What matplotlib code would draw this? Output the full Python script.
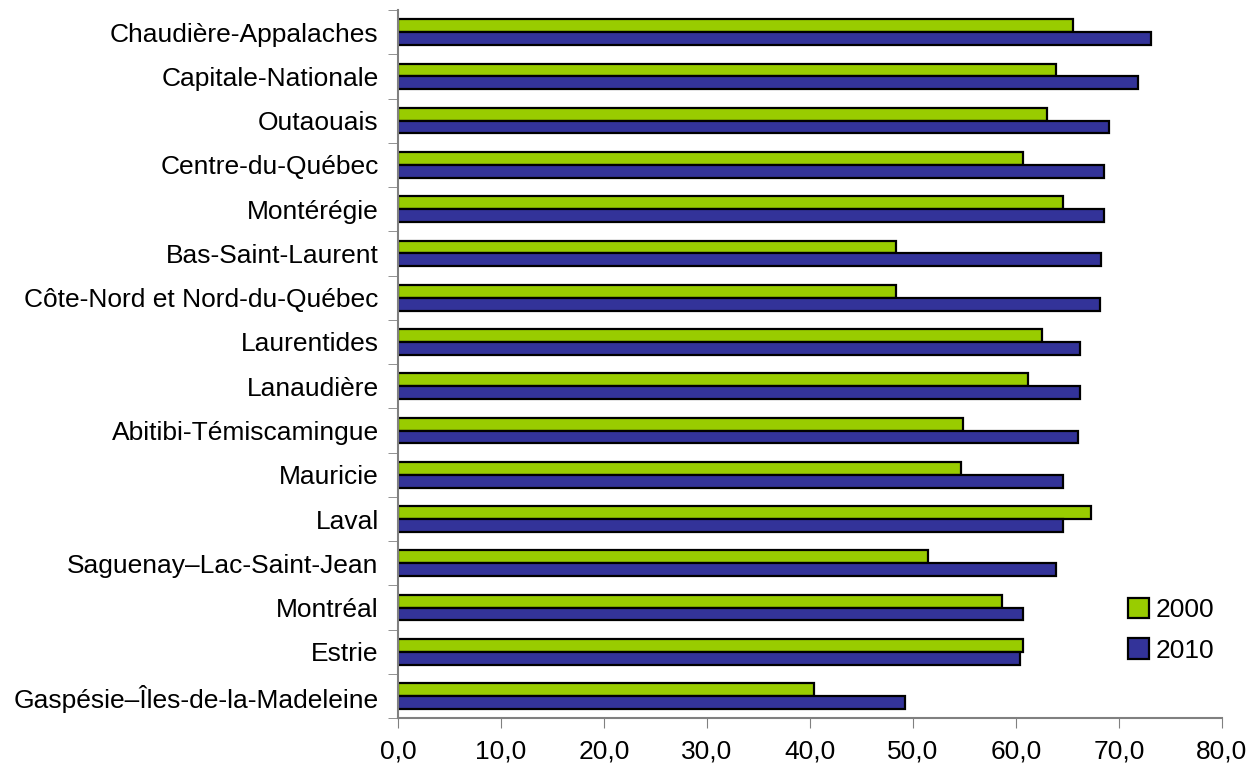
import matplotlib.pyplot as plt
import numpy as np
from matplotlib.ticker import FuncFormatter, FixedLocator

# --- data, top to bottom as in the chart ---
regions = ["Chaudière-Appalaches", "Capitale-Nationale", "Outaouais",
           "Centre-du-Québec", "Montérégie", "Bas-Saint-Laurent",
           "Côte-Nord et Nord-du-Québec", "Laurentides", "Lanaudière",
           "Abitibi-Témiscamingue", "Mauricie", "Laval",
           "Saguenay–Lac-Saint-Jean", "Montréal", "Estrie",
           "Gaspésie–Îles-de-la-Madeleine"]
val_2000 = [65.5, 63.9, 63.0, 60.7, 64.6, 48.3, 48.3, 62.5, 61.2,
            54.9, 54.7, 67.3, 51.5, 58.6, 60.7, 40.4]
val_2010 = [73.1, 71.8, 69.0, 68.5, 68.5, 68.3, 68.2, 66.2, 66.2,
            66.0, 64.6, 64.6, 63.9, 60.7, 60.4, 49.2]
series_labels = ["2000", "2010"]
xticks = [0, 10, 20, 30, 40, 50, 60, 70, 80]

plt.rcParams['font.family'] = ['Liberation Sans', 'DejaVu Sans']

fig = plt.figure(figsize=(12.52, 7.69), dpi=100)
ax = fig.add_axes([0.318, 0.066, 0.658, 0.921])

y = np.arange(len(regions))
h = 0.29
ax.barh(y - h/2, val_2000, height=h, color='#99CC00', edgecolor='black',
        linewidth=1.6, label=series_labels[0])
ax.barh(y + h/2, val_2010, height=h, color='#333399', edgecolor='black',
        linewidth=1.6, label=series_labels[1])

ax.set_ylim(len(regions) - 0.5, -0.5)
ax.set_xlim(0, 80)
ax.set_yticks(y)
ax.set_yticklabels(regions, fontsize=19)
ax.tick_params(axis='y', length=0, pad=14)
# category boundary ticks
ax.yaxis.set_minor_locator(FixedLocator(np.arange(-0.5, len(regions), 1)))
ax.tick_params(axis='y', which='minor', length=7, color='#808080', direction='out')

ax.set_xticks(xticks)
ax.xaxis.set_major_formatter(FuncFormatter(lambda v, p: ("%.1f" % v).replace('.', ',')))
ax.tick_params(axis='x', length=7, color='#808080', labelsize=19, pad=8)

for s in ['top', 'right']:
    ax.spines[s].set_visible(False)
for s in ['left', 'bottom']:
    ax.spines[s].set_color('#808080')
    ax.spines[s].set_linewidth(1.5)

ax.legend(loc='lower right', bbox_to_anchor=(1.02, 0.045), frameon=False,
          fontsize=19, handlelength=0.8, handleheight=0.8, handletextpad=0.25,
          labelspacing=0.62)

fig.savefig('out.png', dpi=100)
